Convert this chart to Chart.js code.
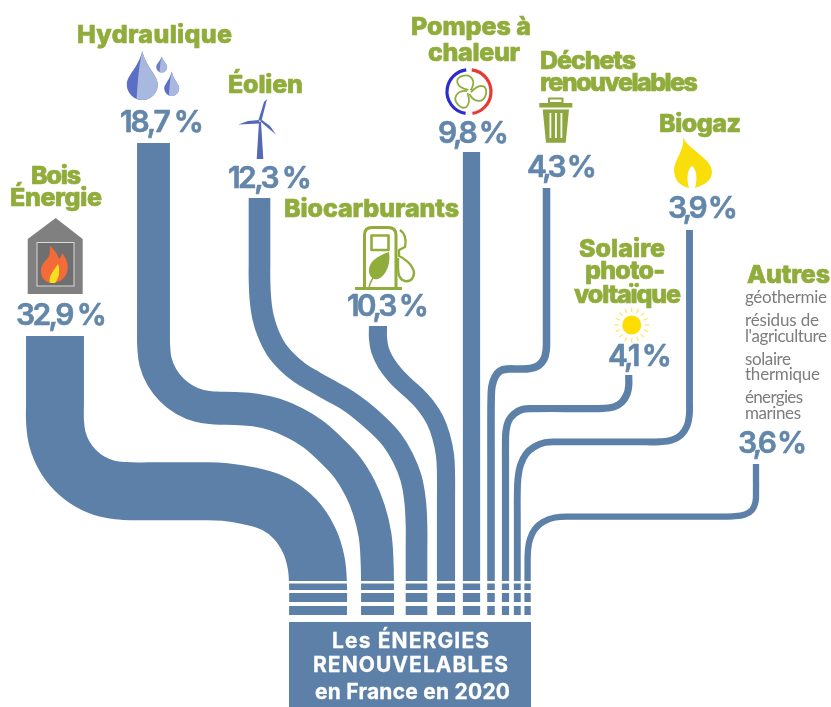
<!DOCTYPE html>
<html lang="fr">
<head>
<meta charset="utf-8">
<title>Les énergies renouvelables en France en 2020</title>
<style>html,body{margin:0;padding:0;background:#fff}canvas{display:block}</style>
<script src="https://cdn.jsdelivr.net/npm/chart.js@4"></script>
</head>
<body>
<canvas id="c" width="831" height="707"></canvas>
<script>
// ---------- data ----------
const categories = ['Bois Énergie','Hydraulique','Éolien','Biocarburants','Pompes à chaleur','Déchets renouvelables','Solaire photovoltaïque','Biogaz','Autres'];
const titleLines = [['Bois','Énergie'],['Hydraulique'],['Éolien'],['Biocarburants'],['Pompes à','chaleur'],['Déchets','renouvelables'],['Solaire','photo-','voltaïque'],['Biogaz'],['Autres']];
const shares = [32.9,18.7,12.3,10.3,9.8,4.3,4.1,3.9,3.6];
const otherSources = ['géothermie','résidus de',"l'agriculture",'solaire','thermique','énergies','marines'];
const boxTitle = ['Les ÉNERGIES','RENOUVELABLES','en France en 2020'];

// ---------- layout (not data): flow routes in the axes' units ----------
const pxPerPercent = 1.76;
const routeBois = [[55,336],[55,380],[55,403],[55,421],[57.4,439],[64.4,456],[75.5,470.5],[90,481.6],[107,488.6],[125,491],[150,491.3],[200,491.3],[225,492],[250,496],[275,504],[295,519],[309,540],[316,562],[318,585],[318,615]];
const routeHydro = [[153.5,143],[153.5,300],[153.5,330],[153.7,346],[155.6,362],[161.8,377],[171.7,389.8],[184.5,399.7],[199.5,405.9],[215.5,408],[235,408.5],[255,410],[275,414.5],[295,423],[313,434],[330,449],[347,467],[360,488],[369,510],[375,535],[377,560],[377.5,585],[377.5,615]];
const routeEolien = [[259.5,198],[259.5,262],[259.5,280],[260.5,300],[263,317],[268,333],[276,349],[287,362],[300,373],[315,382],[331,391],[347,400],[362,411],[378,425],[392,440],[403,458],[411,478],[415,500],[416.5,525],[416.5,550],[416.5,585],[416.5,615]];
const routeBiocarb = [[378,326],[378,338],[380,350],[386,363],[395,375],[405,385],[416,395],[426,406],[435,420],[441,436],[445,455],[446,475],[446,500],[446,540],[446,615]];
const routePompes = [[471.5,152],[471.5,615]];
const routeDechets = [[546.5,188],[546.5,325],[546.5,338],[546.2,350],[544,359],[538.5,365.5],[530,368.5],[518,369],[508,369],[500,371],[495,377],[492,386],[491.2,398],[491,415],[491,450],[491,615]];
const routeSolaire = [[628.7,375],[628.7,386],[627,394],[622,402],[614,406.8],[603,408.4],[590,408.6],[533,408.6],[522,409.5],[514,414],[508.5,421],[506,431],[505.5,445],[505.5,465],[505.5,615]];
const routeBiogaz = [[689.5,230],[689.5,385],[689.5,400],[689.3,415],[687,426],[681,435],[672,440],[660,441.7],[640,441.9],[560,441.9],[545,442.5],[534,447],[526,454],[520.5,465],[518,478],[517.3,495],[517.3,515],[517.3,615]];
const routeAutres = [[756,464],[756,478],[756,490],[755.5,502],[752,510],[745,514.5],[733,516.3],[715,516.7],[573,516.7],[555,517.5],[543,522],[535,529],[530,539],[528,550],[527.6,565],[527.6,615]];
const routes = [routeBois,routeHydro,routeEolien,routeBiocarb,routePompes,routeDechets,routeSolaire,routeBiogaz,routeAutres];
const stripes = [[582.3,2.6],[591.6,3],[604,4]];
const boxRange = [[289,664.5],[531,664.5]];

const BLUE = '#5c80a8', VALUE = '#6386ab', GREEN = '#90ad3c', GREY = '#7d7d7d';

// text: left x, baseline, fitted width
const titleLayout = [
  [[31,184,50],[10,206,92]],
  [[77,43,155]],
  [[228,93,75]],
  [[284,217,175]],
  [[411,35,120],[428,61,92]],
  [[540,69,96],[540,91,158]],
  [[579,257,86],[585,279,80],[574,303,107]],
  [[659,132,82]],
  [[747,283,83]]
];
const valueLayout = [[16,325,91],[120,132,84],[228,188,84],[347,316,82],[438,143,71],[527,177,70],[608,366,64],[668,218,70],[738,453,69]];
const otherLayout = [[745,303,82],[745,326,74],[745,342,82],[745,365,46],[745,380,75],[745,403,58],[745,419,56]];
const boxLayout = [[332,648,157],[313,672,195],[315,699,195]];

function fitText(ctx, text, x, y, w, bold) {
  ctx.letterSpacing = '0px';
  const m = ctx.measureText(text).width;
  ctx.letterSpacing = ((w - m) / Math.max(1, text.length - 1)).toFixed(2) + 'px';
  if (bold) { ctx.lineWidth = bold; ctx.strokeStyle = ctx.fillStyle; ctx.lineJoin = 'round'; ctx.strokeText(text, x, y); }
  ctx.fillText(text, x, y);
  ctx.letterSpacing = '0px';
}
function drop(ctx, cx, apex, cy, r, light, dark) {
  const body = new Path2D();
  body.moveTo(cx, apex);
  body.bezierCurveTo(cx + r * .25, cy - r * 1.1, cx + r, cy - r * .6, cx + r, cy);
  body.arc(cx, cy, r, 0, Math.PI);
  body.bezierCurveTo(cx - r, cy - r * .6, cx - r * .25, cy - r * 1.1, cx, apex);
  ctx.fillStyle = dark; ctx.fill(body);
  const inner = new Path2D();
  inner.moveTo(cx, apex);
  inner.bezierCurveTo(cx + r * .25, cy - r * 1.1, cx + r, cy - r * .6, cx + r, cy);
  inner.arc(cx, cy, r, 0, Math.PI * .62);
  inner.bezierCurveTo(cx - r * .3, cy + r * .2, cx - r * .3, cy - r * .8, cx, apex);
  ctx.fillStyle = light; ctx.fill(inner);
}
function poly(ctx, pts, fill) {
  ctx.beginPath();
  pts.forEach((p, i) => i ? ctx.lineTo(p[0], p[1]) : ctx.moveTo(p[0], p[1]));
  ctx.closePath(); ctx.fillStyle = fill; ctx.fill();
}
function drawIcons(ctx) {
  // house + fire
  poly(ctx, [[55.7,218],[82.7,239],[82.7,294],[27.7,294],[27.7,239]], '#808080');
  ctx.fillStyle = '#6f6f6f'; ctx.fillRect(37,242.5,37,43.5);
  ctx.strokeStyle = '#d8d8d8'; ctx.lineWidth = 1; ctx.strokeRect(37,242.5,37,43.5);
  ctx.fillStyle = '#f26b38';
  ctx.fill(new Path2D('M50 246 C57 252 59 258 59 259 C61 257 62 255 62 253 C67 259 69 266 67 272 C65 279 59 283 52 283 C45 283 40 277 41 269 C42 263 47 260 49 256 C50 253 50 249 50 246 Z'));
  ctx.fillStyle = '#f6e01c';
  ctx.fill(new Path2D('M58 264 C60 270 60 277 55 283 L50 283 C48 276 53 272 58 264 Z'));
  // drops
  drop(ctx,142.3,51,84.5,15.5,'#a9b8de','#5b70c4');
  drop(ctx,161.7,56.5,67,5.5,'#a9b8de','#6c80c8');
  drop(ctx,171.7,71.5,88.5,7.5,'#a9b8de','#5b70c4');
  // wind turbine
  const T = '#5468b8';
  poly(ctx,[[259,122],[261,122],[263.3,159],[256.7,159]],T);
  poly(ctx,[[258.5,120],[261.5,121],[267,99],[264,102]],T);
  poly(ctx,[[259,120],[260,123.5],[249,124],[238.3,124.5],[248,121]],T);
  poly(ctx,[[260,121],[262,120],[270,126],[276,134.5],[268,128]],T);
  // fuel pump
  ctx.strokeStyle = GREEN; ctx.lineWidth = 3; ctx.lineJoin = 'round'; ctx.lineCap = 'butt';
  ctx.stroke(new Path2D('M364.5 288 V235 Q364.5 227.5 372 227.5 H388 Q396 227.5 396 235 V288'));
  ctx.lineWidth = 2.6; ctx.strokeRect(371.5,235.5,17,14.5);
  ctx.lineWidth = 3; ctx.beginPath(); ctx.moveTo(355,288.5); ctx.lineTo(402,288.5); ctx.stroke();
  ctx.lineWidth = 2.4;
  ctx.stroke(new Path2D('M400 230 C406 234 406 242 405 247 L399 250 V256 C404 258 412 264 414 272 C414 279 410 282 405 281 C400 280 398 275 398 268 V258'));
  ctx.fillStyle = GREEN;
  ctx.fill(new Path2D('M389 252 C377 256 368 262 369 272 C370 278 374 280 378 279 C386 276 391 264 389 252 Z'));
  ctx.lineWidth = 1.5; ctx.beginPath(); ctx.moveTo(369,288); ctx.quadraticCurveTo(370,280,378,272); ctx.stroke();
  // heat pump fan
  ctx.lineWidth = 3.2;
  ctx.strokeStyle = '#2b2bd0'; ctx.beginPath(); ctx.arc(469,91.7,22,Math.PI*.55,Math.PI*1.46); ctx.stroke();
  ctx.strokeStyle = '#e53b32'; ctx.beginPath(); ctx.arc(469,91.7,22,-Math.PI*.46,Math.PI*.45); ctx.stroke();
  ctx.strokeStyle = GREEN; ctx.lineWidth = 1.8;
  [0,120,240].forEach(a => {
    ctx.save(); ctx.translate(469,91.7); ctx.rotate((a - 15) * Math.PI / 180);
    ctx.beginPath(); ctx.moveTo(0,-2);
    ctx.bezierCurveTo(-12,-8,-11,-17,-2,-17); ctx.bezierCurveTo(7,-17,10,-8,2,-1);
    ctx.stroke(); ctx.restore();
  });
  // bin
  const B = '#8da63d';
  ctx.fillStyle = B; ctx.fillRect(539.3,103,33,4.5);
  ctx.strokeStyle = B; ctx.lineWidth = 2; ctx.strokeRect(549,98.5,13.5,4.5);
  poly(ctx,[[542.7,109.5],[569,109.5],[565.7,142.7],[546,142.7]],B);
  ctx.fillStyle = '#fff'; ctx.fillRect(549.5,113,1.8,25); ctx.fillRect(555,113,1.8,25); ctx.fillRect(560.5,113,1.8,25);
  // biogas flame
  ctx.fillStyle = '#f8df0c';
  ctx.fill(new Path2D('M683 137 C688 150 712 158 712 172 C712 180 705 185 695 188 C698 178 696 168 692 166 C688 168 686 178 689 188 C680 186 674 180 674 170 C674 160 685 150 683 137 Z'));
  // sun
  ctx.strokeStyle = '#f9e97a'; ctx.lineWidth = 1.4;
  for (let i = 0; i < 16; i++) {
    const a = i * Math.PI / 8;
    ctx.beginPath(); ctx.moveTo(631.7 + 13 * Math.cos(a), 325 + 13 * Math.sin(a));
    ctx.lineTo(631.7 + 17.5 * Math.cos(a), 325 + 17.5 * Math.sin(a)); ctx.stroke();
  }
  ctx.fillStyle = '#ffdd00'; ctx.beginPath(); ctx.arc(631.7,325,9.5,0,Math.PI*2); ctx.fill();
}
const textPlugin = {
  id: 'texts',
  afterDatasetsDraw(chart) {
    const ctx = chart.ctx;
    ctx.save();
    ctx.textAlign = 'left'; ctx.textBaseline = 'alphabetic';
    drawIcons(ctx);
    titleLines.forEach((lines, i) => lines.forEach((line, j) => {
      const [x, y, w] = titleLayout[i][j];
      ctx.font = '800 25px Inter'; ctx.fillStyle = GREEN;
      fitText(ctx, line, x, y, w, 0.7);
    }));
    shares.forEach((v, i) => {
      const [x, y, w] = valueLayout[i];
      ctx.font = '600 30px Inter'; ctx.fillStyle = VALUE;
      fitText(ctx, v.toFixed(1).replace('.', ',') + ' %', x, y, w, 0.6);
    });
    otherSources.forEach((t, i) => {
      const [x, y, w] = otherLayout[i];
      ctx.font = '400 17px Lato'; ctx.fillStyle = GREY;
      fitText(ctx, t, x, y, w);
    });
    boxTitle.forEach((t, i) => {
      const [x, y, w] = boxLayout[i];
      ctx.font = '700 21px Inter'; ctx.fillStyle = '#fff';
      fitText(ctx, t, x, y, w, 0.3);
    });
    ctx.restore();
  }
};
const toPts = r => r.map(p => ({x: p[0], y: p[1]}));
const datasets = categories.map((name, i) => ({
  label: name, data: toPts(routes[i]), borderColor: BLUE, backgroundColor: BLUE,
  borderWidth: shares[i] * pxPerPercent, tension: 0.4, pointRadius: 0, fill: false,
  borderCapStyle: 'butt', borderJoinStyle: 'round', capBezierPoints: false, order: 5
}));
stripes.forEach(s => datasets.push({
  label: 'gap', data: [{x: 280, y: s[0]}, {x: 540, y: s[0]}], borderColor: '#fff',
  borderWidth: s[1], pointRadius: 0, tension: 0, borderCapStyle: 'butt', order: 2
}));
datasets.push({
  label: 'total', data: toPts(boxRange), borderColor: BLUE, borderWidth: 85,
  pointRadius: 0, tension: 0, borderCapStyle: 'butt', order: 1
});
new Chart(document.getElementById('c'), {
  type: 'line',
  data: {datasets},
  plugins: [textPlugin],
  options: {
    responsive: false, animation: false, events: [],
    layout: {padding: 0},
    parsing: false, normalized: false,
    plugins: {legend: {display: false}, tooltip: {enabled: false}, title: {display: false}},
    scales: {
      x: {type: 'linear', min: 0, max: 831, display: false},
      y: {type: 'linear', min: 0, max: 707, reverse: true, display: false}
    }
  }
});
</script>
</body>
</html>
